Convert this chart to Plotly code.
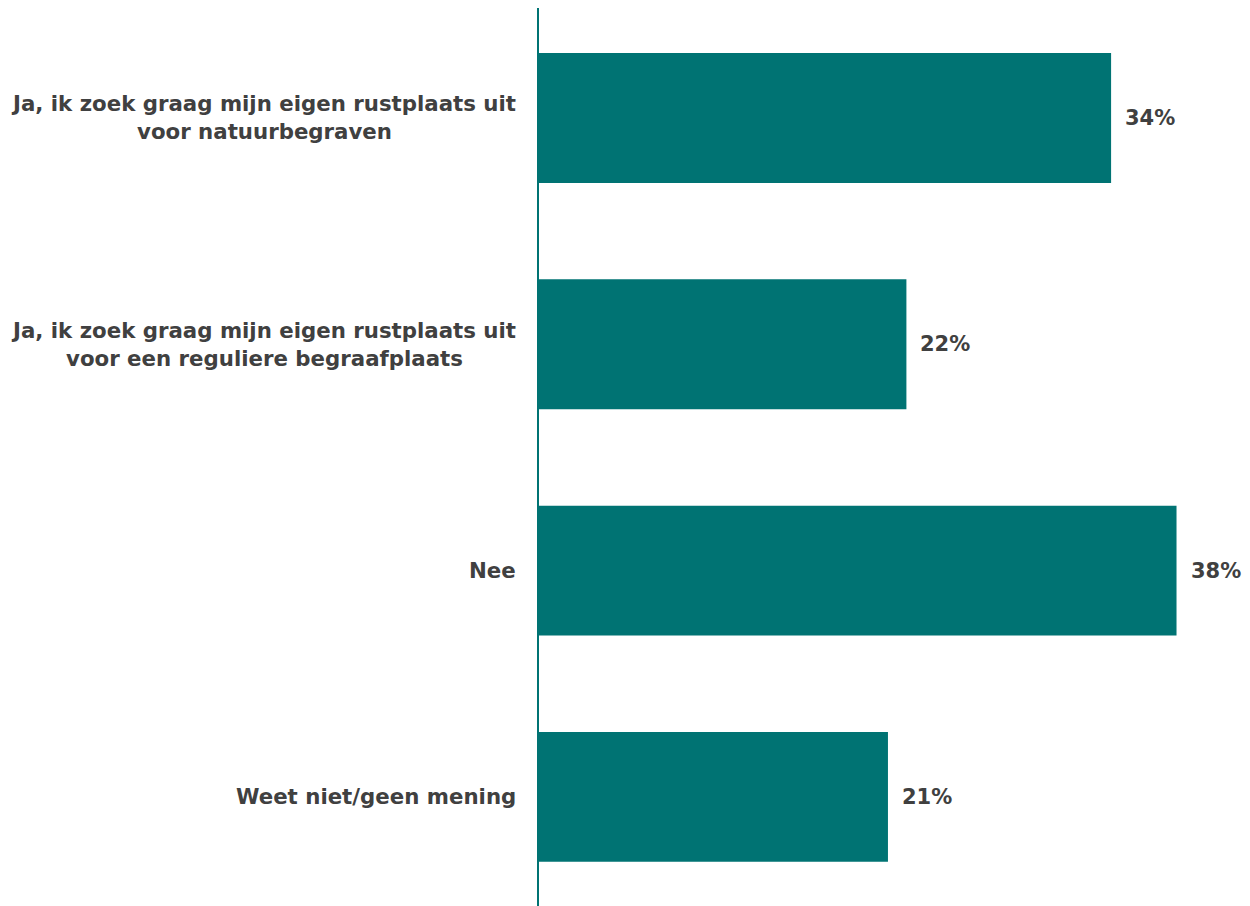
import plotly.graph_objects as go

categories = [
    "Ja, ik zoek graag mijn eigen rustplaats uit<br>voor natuurbegraven",
    "Ja, ik zoek graag mijn eigen rustplaats uit<br>voor een reguliere begraafplaats",
    "Nee",
    "Weet niet/geen mening",
]
values = [34.1, 21.9, 38.0, 20.8]
labels = ["34%", "22%", "38%", "21%"]

BAR = "#007373"
TXT = "#404040"
FONT = "DejaVu Sans, Verdana, sans-serif"

fig = go.Figure(go.Bar(
    y=list(range(len(categories))),
    x=values,
    orientation="h",
    marker=dict(color=BAR, line=dict(width=0)),
    width=0.574,
    hovertext=categories,
))

annotations = []
for i, (cat, v, lab) in enumerate(zip(categories, values, labels)):
    annotations.append(dict(
        x=0, xref="paper", y=i, yref="y",
        text=cat, showarrow=False, xanchor="right", yanchor="middle",
        align="center", xshift=-21,
        font=dict(family=FONT, size=21.3, color=TXT, weight="bold"),
    ))
    annotations.append(dict(
        x=v, xref="x", y=i, yref="y",
        text=lab, showarrow=False, xanchor="left", yanchor="middle",
        xshift=12,
        font=dict(family=FONT, size=21, color=TXT, weight="bold"),
    ))

fig.update_layout(
    width=1242, height=898,
    margin=dict(l=531, r=0, t=0, b=0),
    plot_bgcolor="white", paper_bgcolor="white",
    showlegend=False,
    annotations=annotations,
    xaxis=dict(range=[0, 42.38], visible=False, showgrid=False, zeroline=False),
    yaxis=dict(
        range=[3.482, -0.486],
        showline=True, linecolor=BAR, linewidth=2,
        showgrid=False, zeroline=False,
        ticks="", showticklabels=False,
    ),
)

fig.write_html("out.html")
